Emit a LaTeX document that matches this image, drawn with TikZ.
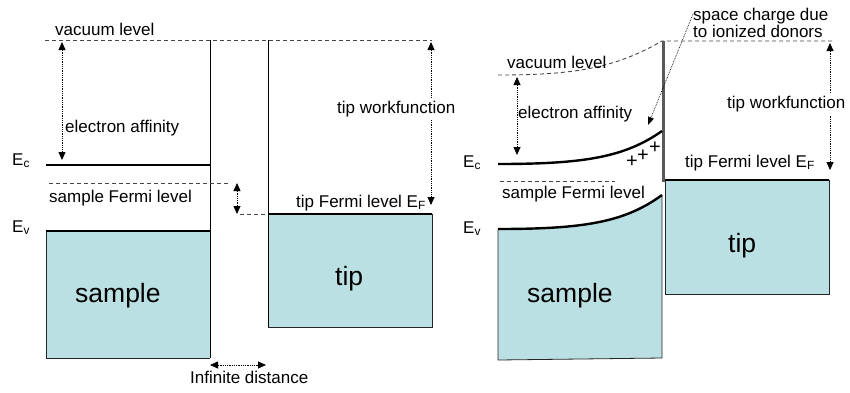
\documentclass[tikz,border=0pt]{standalone}
\usepackage{fontspec}
\setmainfont{Liberation Sans}
\usetikzlibrary{arrows.meta}
\definecolor{bandfill}{RGB}{187,224,227}
\definecolor{dashgray}{RGB}{70,70,70}
\begin{document}
\begin{tikzpicture}[x=1pt,y=-1pt,
    lbl/.style={font=\fontsize{17}{20}\selectfont, inner sep=0pt, anchor=base west},
    big/.style={font=\fontsize{26.5}{30}\selectfont, inner sep=0pt, anchor=base west},
    band/.style={fill=bandfill, draw=black!85, line width=0.8pt},
    edge/.style={line width=2.4pt},
    vac/.style={dashgray, line width=0.9pt, dash pattern=on 4pt off 3pt},
    gap/.style={densely dotted, line width=0.8pt, {Triangle[length=8pt,width=7pt]}-{Triangle[length=8pt,width=7pt]}},
    ptr/.style={densely dotted, line width=0.7pt, -{Triangle[length=8pt,width=6pt]}}]

    % --- Rahmen ---
    \useasboundingbox (0,0) rectangle (850,392);

    % ===================== links: unendlicher Abstand =====================
    % --- Baender (Probe und Spitze) ---
    \fill[bandfill] (46,231) rectangle (210,358);
    \draw[black!85, line width=0.8pt] (46,231) -- (46,358) -- (210,358);
    \fill[bandfill] (268,214) rectangle (432,327);
    \draw[black!85, line width=0.8pt] (432,214) -- (432,327) -- (268,327);

    % --- Vakuumniveau und senkrechte Kanten ---
    \draw[vac] (45,40) -- (432,40);
    \draw[line width=0.9pt] (210,40) -- (210,358);
    \draw[line width=0.9pt] (268,40) -- (268,327);

    % --- Ec, Ev, Ferminiveaus ---
    \draw[edge] (46,165) -- (210,165);
    \draw[edge] (46,231) -- (210,231);
    \draw[edge] (268,214) -- (432,214);
    \draw[vac] (49,183) -- (228,183);
    \draw[vac] (240,214) -- (268,214);

    % --- Pfeile ---
    \coordinate (affLtop) at (62,42);
    \coordinate (affLbot) at (62,160);
    \coordinate (wfLtop) at (431,42);
    \coordinate (wfLbot) at (431,205);
    \coordinate (dfTop) at (237,183);
    \coordinate (dfBot) at (237,214);
    \coordinate (distA) at (210,365);
    \coordinate (distB) at (266,365);
    \draw[gap] (affLtop) -- (affLbot);
    \draw[gap] (wfLtop) -- (wfLbot);
    \draw[gap] (dfTop) -- (dfBot);
    \draw[gap] (distA) -- (distB);

    % --- Beschriftungen ---
    \node[lbl] (vacL) at (55,35) {vacuum level};
    \node[lbl] (affL) at (65,132) {electron affinity};
    \node[lbl] (sfL) at (49,202) {sample Fermi level};
    \node[lbl, fill=white, inner ysep=3pt] (wfL) at (337,113) {tip workfunction};
    \node[lbl] (tfL) at (296,207) {tip Fermi level E$_\mathrm{F}$};
    \node[lbl] (EcL) at (12,165) {E$_\mathrm{c}$};
    \node[lbl] (EvL) at (12,232) {E$_\mathrm{v}$};
    \node[big] (sampleL) at (75,302) {sample};
    \node[big] (tipL) at (335,285) {tip};
    \node[lbl] (dist) at (190,383) {Infinite distance};

    % ===================== rechts: im Kontakt =====================
    % --- Probe mit Bandverbiegung ---
    \fill[bandfill] (498,229) .. controls (585,229) and (625,222) .. (662,195)
        -- (662,358) -- (498,360) -- cycle;
    \draw[black!85, line width=0.8pt] (662,195) -- (662,358) -- (498,360) -- (498,229);
    \draw[band] (665,180) rectangle (829,294);

    % --- Vakuumniveau, Baender ---
    \draw[vac] (498,75) .. controls (575,75) and (615,68) .. (662,41) -- (832,41);
    \draw[gray!70!black, line width=3pt] (663,41) -- (663,182);
    \draw[edge] (498,164) .. controls (585,164) and (625,157) .. (662,131);
    \draw[edge] (498,229) .. controls (585,229) and (625,222) .. (662,195);
    \draw[edge] (665,180) -- (829,180);
    \draw[vac] (500,181) -- (615,181);

    % --- Raumladung ---
    \foreach \px/\py [count=\i] in {632/162, 643/156, 655/148}
      \node[font=\fontsize{20}{20}\selectfont, inner sep=0pt] (plus\i) at (\px,\py) {+};

    % --- Pfeile ---
    \coordinate (affRtop) at (517,77);
    \coordinate (affRbot) at (517,155);
    \coordinate (wfRtop) at (830,43);
    \coordinate (wfRbot) at (830,170);
    \coordinate (chargeTip) at (648,125);
    \draw[gap] (affRtop) -- (affRbot);
    \draw[gap] (wfRtop) -- (wfRbot);

    % --- Beschriftungen ---
    \node[lbl] (charge) at (693,20) {space charge due};
    \node[lbl] (donors) at (693,37) {to ionized donors};
    \node[lbl] (vacR) at (507,68) {vacuum level};
    \node[lbl] (affR) at (518,118) {electron affinity};
    \node[lbl] (sfR) at (502,198) {sample Fermi level};
    \node[lbl, fill=white, inner ysep=3pt] (wfR) at (727,108) {tip workfunction};
    \node[lbl] (tfR) at (685,167) {tip Fermi level E$_\mathrm{F}$};
    \node[lbl] (EcR) at (463,167) {E$_\mathrm{c}$};
    \node[lbl] (EvR) at (463,233) {E$_\mathrm{v}$};
    \node[big] (sampleR) at (527,302) {sample};
    \node[big] (tipR) at (728,252) {tip};
    \draw[ptr] (charge.base west) ++(0,-6) -- (chargeTip);
\end{tikzpicture}
\end{document}
